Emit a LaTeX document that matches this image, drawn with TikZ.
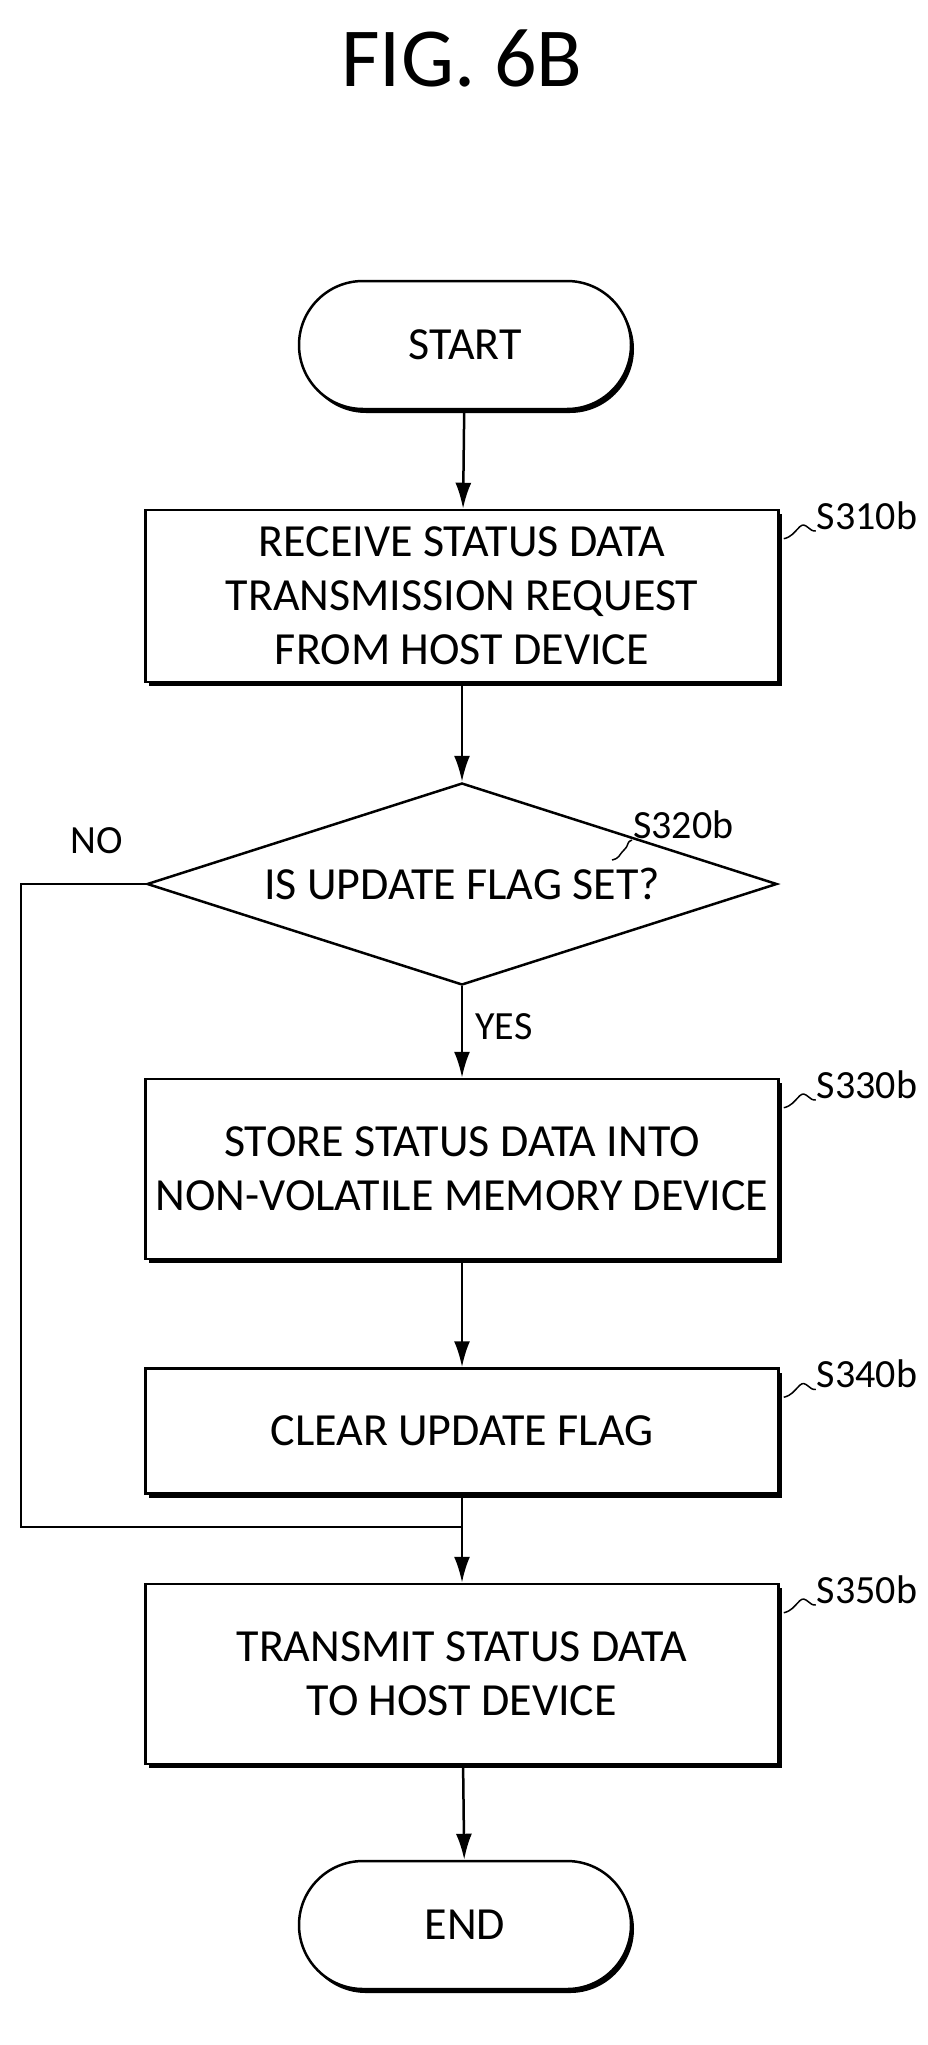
\documentclass[tikz,border=0pt]{standalone}
\usepackage{fontspec}
\setmainfont{Carlito}
\usetikzlibrary{shapes.geometric,shadows,positioning,arrows.meta}
\tikzset{
  every node/.style={font=\fontsize{46}{54}\selectfont},
  proc/.style={draw,line width=2.5pt,fill=white,minimum width=633pt,align=center,
    drop shadow={shadow xshift=3pt,shadow yshift=-4pt,fill=black,opacity=1}},
  term/.style={draw,line width=2.5pt,fill=white,rounded corners=64pt,minimum width=332pt,minimum height=128pt,
    drop shadow={shadow xshift=3pt,shadow yshift=-4pt,fill=black,opacity=1}},
  flow/.style={line width=2.5pt,-{Latex[length=26pt,width=16pt]}},
  tag/.style={font=\fontsize{40}{46}\selectfont,inner sep=1pt},
  wave/.style={line width=1.5pt}
}
\begin{document}
\begin{tikzpicture}[x=1pt,y=-1pt]
\useasboundingbox (0,0) rectangle (927,2045);
\node[font=\fontsize{84}{90}\selectfont] (title) at (462,58) {FIG. 6B};
% flow
\node[term] (start) at (465,345) {START};
\node[proc,minimum height=172pt] (s310) at (462,596) {RECEIVE STATUS DATA\\TRANSMISSION REQUEST\\FROM HOST DEVICE};
\node[draw,line width=2.5pt,diamond,aspect=3.1,minimum width=630pt,minimum height=202pt,inner sep=0pt] (s320) at (462,884) {IS UPDATE FLAG SET?};
\node[proc,minimum height=180pt] (s330) at (462,1169) {STORE STATUS DATA INTO\\NON-VOLATILE MEMORY DEVICE};
\node[proc,minimum height=125pt] (s340) at (462,1431) {CLEAR UPDATE FLAG};
\node[proc,minimum height=180pt] (s350) at (462,1674) {TRANSMIT STATUS DATA\\TO HOST DEVICE};
\node[term] (end) at (465,1925) {END};
\coordinate (merge) at (462,1527);
\coordinate (nocorner) at (21,884);
\draw[flow] (start) -- (s310);
\draw[flow] (s310) -- (s320);
\draw[flow] (s320) -- (s330);
\draw[flow] (s330) -- (s340);
\draw[line width=2.5pt] (s340) -- (merge);
\draw[line width=2.5pt] (s320.west) -- (nocorner) |- (merge);
\draw[flow] (merge) -- (s350);
\draw[flow] (s350) -- (end);
\node[tag] (no) at (97,841) {NO};
\node[tag] (yes) at (504,1027) {YES};
% step tags
\foreach \s in {310,330,340,350}{
  \node[tag,anchor=south west] (t\s) at ([shift={(36,22)}]s\s.north east) {S\s b};
  \draw[wave] ([shift={(4,30)}]s\s.north east) .. controls +(8,-2) and +(-6,6) .. ++(16,-12) .. controls +(6,-6) and +(-6,2) .. (t\s.south west);
}
\node[tag,anchor=south west] (t320) at (632,840) {S320b};
\draw[wave] (612,860) .. controls +(8,-2) and +(-6,6) .. ++(12,-10) .. controls +(6,-6) and +(-6,2) .. (t320.south west);
\end{tikzpicture}
\end{document}
